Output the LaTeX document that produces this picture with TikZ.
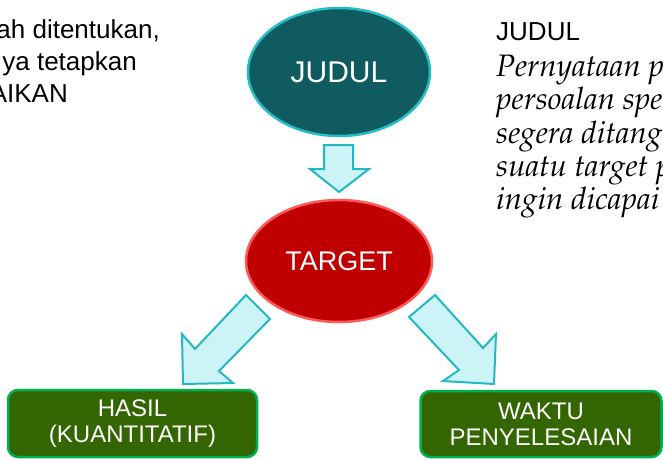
\documentclass[tikz,border=0pt]{standalone}
\usepackage[T1]{fontenc}
\usepackage{fontspec}
\setmainfont{Liberation Sans}
\usetikzlibrary{shapes.geometric}

\definecolor{tealfill}{HTML}{0F5B5F}
\definecolor{tealline}{HTML}{26BCC6}
\definecolor{redfill}{HTML}{C00000}
\definecolor{redline}{HTML}{FF5A5A}
\definecolor{greenfill}{HTML}{336600}
\definecolor{greenline}{HTML}{00B050}
\definecolor{arrowfill}{HTML}{CCF4F6}
\definecolor{arrowline}{HTML}{22B8C4}

% Palatino italic for the description text
\newcommand\palit{\fontencoding{T1}\fontfamily{ppl}\fontseries{m}\fontshape{it}\selectfont}

\tikzset{
  bubble/.style={ellipse, line width=2.5pt, text=white, inner sep=0pt},
  resultbox/.style={rectangle, rounded corners=10pt, draw=greenline, fill=greenfill,
    line width=2.5pt, text=white, inner sep=0pt, align=center,
    font=\fontsize{24}{26}\selectfont},
  blockarrow/.style={draw=arrowline, fill=arrowfill, line width=2pt, line join=miter},
  plain/.style={inner sep=0pt, font=\fontsize{26}{32}\selectfont},
  italictext/.style={inner sep=0pt, anchor=base west, font=\palit\fontsize{31}{33}\selectfont}
}

\begin{document}
\begin{tikzpicture}[x=1pt,y=-1pt]
\useasboundingbox[fill=white] (0,0) rectangle (663,459);
\clip (0,0) rectangle (663,459);

% left text block (partly beyond the page edge)
\node[plain, anchor=base east] (l1) at (160,38) {ah ditentukan,};
\node[plain, anchor=base east] (l2) at (137,70) {ya tetapkan};
\node[plain, anchor=base east] (l3) at (68,102) {AIKAN};

% right text block
\node[inner sep=0pt, anchor=base west, font=\fontsize{26}{26}\selectfont] (h) at (496,40) {JUDUL};
\node[italictext] (r1) at (496,76) {Pernyataan p};
\node[italictext] (r2) at (496,109.5) {persoalan spe};
\node[italictext] (r3) at (496,143) {segera ditang};
\node[italictext] (r4) at (496,176) {suatu target p};
\node[italictext] (r5) at (496,209) {ingin dicapai};

% main nodes
\node[bubble, draw=tealline, fill=tealfill, minimum width=182pt, minimum height=128pt,
  font=\fontsize{30}{30}\selectfont] (judul) at (339,72) {JUDUL};
\node[bubble, draw=redline, fill=redfill, minimum width=186pt, minimum height=122pt,
  font=\fontsize{27}{27}\selectfont] (target) at (339,261) {TARGET};

\node[resultbox, minimum width=249pt, minimum height=67pt] (hasil) at (132.5,423.5) {HASIL\\(KUANTITATIF)};
\node[resultbox, minimum width=241pt, minimum height=66pt] (waktu) at (541,424) {WAKTU\\PENYELESAIAN};

% block arrows
\draw[blockarrow] (324,145) -- (353,145) -- (353,169) -- (369,169) -- (339,192)
  -- (310,169) -- (324,169) -- cycle;
\draw[blockarrow] (246,295) -- (270,319) -- (219,371) -- (233,383) -- (183,384)
  -- (182,334) -- (195,349) -- cycle;
\draw[blockarrow] (435,295) -- (483,348) -- (496,334) -- (494,384) -- (443,381)
  -- (459,370) -- (409,317) -- cycle;
\end{tikzpicture}
\end{document}
